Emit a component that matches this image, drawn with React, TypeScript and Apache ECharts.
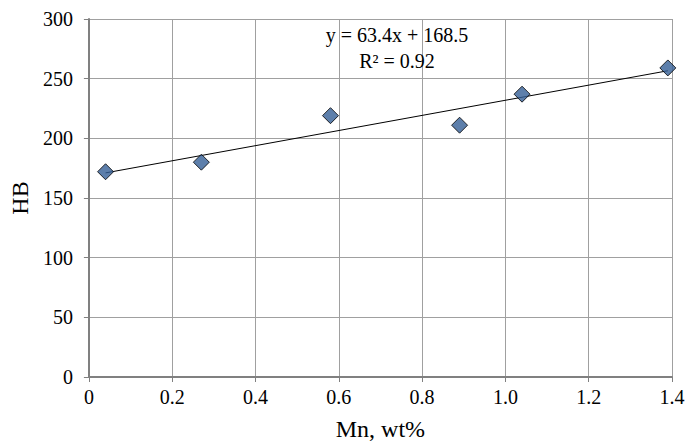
import React, { useEffect, useRef } from "react";
import * as echarts from "echarts";

const mnValues = [0.04, 0.27, 0.58, 0.89, 1.04, 1.39];
const hbValues = [172, 180, 219, 211, 237, 259];
const trendSlope = 63.4;
const trendIntercept = 168.5;
const rSquared = 0.92;
const xTicks = [0, 0.2, 0.4, 0.6, 0.8, 1.0, 1.2, 1.4];
const yTicks = [0, 50, 100, 150, 200, 250, 300];
const xTitle = "Mn, wt%";
const yTitle = "HB";

const FONT = "Liberation Serif";

export default function App() {
  const ref = useRef<HTMLDivElement>(null);
  useEffect(() => {
    document.body.style.margin = "0";
    if (!ref.current) return;
    const chart = echarts.init(ref.current, null, { renderer: "svg" });
    const points = mnValues.map((x, i) => [x, hbValues[i]]);
    const xMin = Math.min(...mnValues);
    const xMax = Math.max(...mnValues);
    const trend = [
      [xMin, trendSlope * xMin + trendIntercept],
      [xMax, trendSlope * xMax + trendIntercept],
    ];
    chart.setOption({
      animation: false,
      backgroundColor: "#ffffff",
      textStyle: { fontFamily: FONT },
      grid: { left: 85, right: 27, top: 19, bottom: 69, containLabel: false },
      xAxis: {
        type: "value",
        min: xTicks[0],
        max: xTicks[xTicks.length - 1],
        interval: 0.2,
        name: xTitle,
        nameLocation: "middle",
        nameGap: 40,
        nameTextStyle: { fontFamily: FONT, fontSize: 24, color: "#000" },
        axisLine: { show: true, lineStyle: { color: "#808080", width: 2 } },
        axisTick: { show: true, inside: false, length: 5, lineStyle: { color: "#808080", width: 1 } },
        axisLabel: {
          fontFamily: FONT,
          fontSize: 20,
          color: "#000",
          margin: 10,
          formatter: (v: number) => (v === 0 ? "0" : v.toFixed(1)),
        },
        splitLine: { show: true, lineStyle: { color: "#a0a0a0", width: 1 } },
      },
      yAxis: {
        type: "value",
        min: yTicks[0],
        max: yTicks[yTicks.length - 1],
        interval: 50,
        name: yTitle,
        nameLocation: "middle",
        nameGap: 56,
        nameTextStyle: { fontFamily: FONT, fontSize: 24, color: "#000" },
        axisLine: { show: true, lineStyle: { color: "#808080", width: 2 } },
        axisTick: { show: true, inside: false, length: 5, lineStyle: { color: "#808080", width: 1 } },
        axisLabel: { fontFamily: FONT, fontSize: 20, color: "#000", margin: 16 },
        splitLine: { show: true, lineStyle: { color: "#a0a0a0", width: 1 } },
      },
      series: [
        {
          type: "line",
          data: trend,
          symbol: "none",
          lineStyle: { color: "#000", width: 1 },
          z: 2,
        },
        {
          type: "scatter",
          data: points,
          symbol: "diamond",
          symbolSize: 16,
          itemStyle: { color: "#355f96", borderColor: "#000", borderWidth: 1 },
          z: 3,
        },
      ],
      graphic: [
        {
          type: "text",
          x: 397,
          y: 35,
          style: {
            text: `y = ${trendSlope.toFixed(1)}x + ${trendIntercept.toFixed(1)}`,
            font: `20px ${FONT}`,
            fill: "#000",
            align: "center",
            verticalAlign: "middle",
          },
          z: 10,
        },
        {
          type: "text",
          x: 397,
          y: 61,
          style: {
            text: `R² = ${rSquared.toFixed(2)}`,
            font: `20px ${FONT}`,
            fill: "#000",
            align: "center",
            verticalAlign: "middle",
          },
          z: 10,
        },
      ],
    });
    return () => chart.dispose();
  }, []);
  return <div ref={ref} style={{ width: 699, height: 446 }} />;
}
